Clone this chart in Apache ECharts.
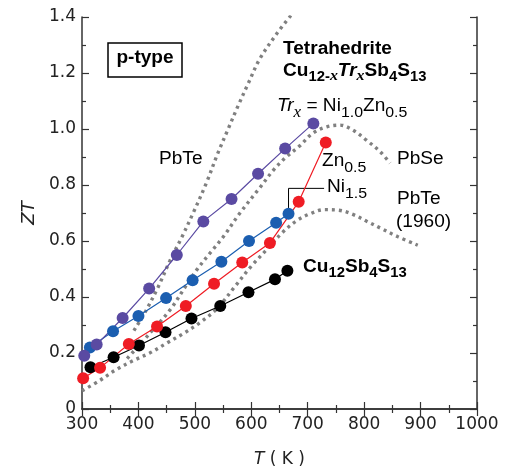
<!DOCTYPE html>
<html>
<head>
<meta charset="utf-8">
<script src="https://cdn.jsdelivr.net/npm/echarts@6/dist/echarts.min.js"></script>
<style>
  html, body { margin: 0; background: #fff; }
  #main { width: 505px; height: 468px; }
</style>
</head>
<body>
<div id="main"></div>
<script>
// measured ZT vs T (K)
var niZn = [[304,0.19],[326,0.23],[372,0.325],[419,0.43],[468,0.55],[515,0.67],[565,0.75],[612,0.84],[660,0.93],[710,1.02]]
var ni15 = [[314,0.22],[355,0.278],[400,0.332],[449,0.396],[496,0.46],[547,0.526],[596,0.60],[644,0.665],[666,0.697]]
var zn05 = [[302,0.11],[332,0.147],[383,0.232],[433,0.295],[484,0.368],[534,0.447],[584,0.523],[633,0.593],[684,0.74],[732,0.952]]
var cu12 = [[315,0.149],[356,0.185],[401,0.227],[448,0.274],[494,0.323],[545,0.368],[595,0.417],[642,0.463],[664,0.494]]

// reference materials (dotted)
var pbTe = [[392,0.28],[413,0.35],[435,0.436],[456,0.53],[476,0.61],[497,0.70],[521,0.81],[540,0.91],[559,1.0],[576,1.08],[594,1.16],[615,1.25],[645,1.34],[672,1.41]]
var pbSe = [[380,0.18],[420,0.27],[456,0.354],[483,0.436],[503,0.496],[527,0.557],[550,0.614],[580,0.70],[615,0.79],[640,0.855],[662,0.90],[686,0.94],[709,0.985],[734,1.008],[757,1.014],[780,0.996],[804,0.96],[828,0.92],[846,0.878]]
var pbTe1960 = [[300,0.065],[330,0.10],[360,0.14],[390,0.172],[420,0.20],[450,0.235],[480,0.27],[510,0.31],[540,0.36],[570,0.435],[600,0.51],[630,0.575],[655,0.63],[680,0.672],[705,0.698],[730,0.712],[755,0.71],[780,0.695],[805,0.67],[830,0.645],[860,0.615],[895,0.585]]

// leader line from the Ni1.5 label to its last point
var niLeader = [[666,0.70],[666,0.788],[729,0.788]]

var chart = echarts.init(document.getElementById('main'))

var axisColor = '#333'
var font = 'DejaVu Sans'
var txtFont = 'Liberation Sans'

function dotted(data) {
  return {
    type: 'line', data: data, smooth: 0.35, showSymbol: false, symbol: 'none',
    lineStyle: { color: '#808080', width: 3.4, type: [3, 4] }, z: 1, silent: true
  }
}
function measured(data, color) {
  return {
    type: 'line', data: data, symbol: 'circle', symbolSize: 12,
    itemStyle: { color: color }, lineStyle: { color: color, width: 1.2 }, z: 3
  }
}

var baseAxis = {
  type: 'value',
  axisLine: { show: true, lineStyle: { color: axisColor, width: 1.5 } },
  axisTick: { show: true, inside: true, length: 7, lineStyle: { color: axisColor, width: 1.2 } },
  minorTick: { show: true, splitNumber: 2, length: 4, lineStyle: { color: axisColor, width: 1.2 } },
  splitLine: { show: false }
}

var bold = { fontFamily: txtFont, fontWeight: 'bold', fontSize: 18, color: '#000', lineHeight: 20, verticalAlign: 'top' }
var bsub = { fontFamily: txtFont, fontWeight: 'bold', fontSize: 14, color: '#000', lineHeight: 14, padding: [8, 0, 0, 0], verticalAlign: 'top' }
var isub = { fontFamily: 'Liberation Serif', fontStyle: 'italic', fontWeight: 'bold', fontSize: 15, color: '#000', lineHeight: 14, padding: [7, 0, 0, 0], verticalAlign: 'top' }

function txt(x, y, text, rich, align) {
  return {
    type: 'text', x: x, y: y, scaleX: 1.06, z: 10,
    style: { text: text, rich: rich, align: align || 'left', verticalAlign: 'top' }
  }
}

function plain(color, size) {
  return { fontFamily: txtFont, fontSize: size || 18, color: color, lineHeight: 20, verticalAlign: 'top' }
}
function sub(color) {
  return { fontFamily: txtFont, fontSize: 15, color: color, lineHeight: 15, padding: [8, 0, 0, 0], verticalAlign: 'top' }
}

chart.setOption({
  animation: false,
  grid: { left: 82, right: 28, top: 17, bottom: 59, containLabel: false, outerBoundsMode: 'none' },
  xAxis: [
    Object.assign({}, baseAxis, {
      min: 300, max: 1000, interval: 100, position: 'bottom',
      axisLabel: { fontFamily: font, fontSize: 17, color: '#222', margin: 7,
        formatter: function (v) { return String(v) } },
      name: '{i|T}{n| ( K )}', nameLocation: 'middle', nameGap: 42,
      nameTextStyle: { rich: {
        i: { fontFamily: font, fontStyle: 'italic', fontSize: 17, color: '#222' },
        n: { fontFamily: font, fontSize: 17, color: '#222' }
      } }
    }),
    Object.assign({}, baseAxis, {
      min: 300, max: 1000, interval: 100, position: 'top', axisLabel: { show: false }
    })
  ],
  yAxis: [
    Object.assign({}, baseAxis, {
      min: 0, max: 1.4, interval: 0.2, position: 'left',
      axisLabel: {
        fontFamily: font, fontSize: 17, color: '#222', margin: 6,
        formatter: function (v) { return v === 0 ? '0' : v.toFixed(1) }
      },
      name: 'ZT', nameLocation: 'middle', nameGap: 44, nameRotate: 90,
      nameTextStyle: { fontFamily: font, fontStyle: 'italic', fontSize: 18, color: '#222' }
    }),
    Object.assign({}, baseAxis, {
      min: 0, max: 1.4, interval: 0.2, position: 'right', axisLabel: { show: false }
    })
  ],
  series: [
    dotted(pbTe),
    dotted(pbSe),
    dotted(pbTe1960),
    { type: 'line', data: niLeader, symbol: 'none', lineStyle: { color: '#000', width: 1 }, z: 2, silent: true },
    measured(cu12, '#000000'),
    measured(zn05, '#ef1c24'),
    measured(ni15, '#1b5eb0'),
    measured(niZn, '#5a4aa2')
  ],
  graphic: [
    { type: 'rect', shape: { x: 108, y: 43, width: 74, height: 34 },
      style: { fill: '#fff', stroke: '#000', lineWidth: 1.5 }, z: 10 },
    txt(145, 49, '{b|p-type}', { b: bold }, 'center'),
    txt(283, 40, '{b|Tetrahedrite}', { b: bold }),
    txt(283, 62, '{b|Cu}{s|12-}{i|x}{bi|Tr}{i|x}{b|Sb}{s|4}{b|S}{s|13}', {
      b: bold, s: bsub, i: isub,
      bi: { fontFamily: txtFont, fontWeight: 'bold', fontStyle: 'italic', fontSize: 18, color: '#000', lineHeight: 20, verticalAlign: 'top' }
    }),
    txt(277, 97, '{t|Tr}{x|x}{e| = }{p|Ni}{ps|1.0}{p|Zn}{ps|0.5}', {
      t: { fontFamily: txtFont, fontStyle: 'italic', fontSize: 18, color: '#000', lineHeight: 20, verticalAlign: 'top' },
      x: { fontFamily: 'Liberation Serif', fontStyle: 'italic', fontSize: 16, color: '#000', lineHeight: 15, padding: [8, 0, 0, 0], verticalAlign: 'top' },
      e: plain('#000'),
      p: plain('#5a4aa2'), ps: sub('#5a4aa2')
    }),
    txt(159, 150, '{g|PbTe}', { g: plain('#6e6e6e') }),
    txt(397, 150, '{g|PbSe}', { g: plain('#777777') }),
    txt(397, 190, '{g|PbTe}', { g: plain('#7a818c') }),
    txt(396, 213, '{g|(1960)}', { g: plain('#7a818c') }),
    txt(322, 152, '{r|Zn}{rs|0.5}', { r: plain('#ef1c24'), rs: sub('#ef1c24') }),
    txt(327, 178, '{r|Ni}{rs|1.5}', { r: plain('#1b5eb0'), rs: sub('#1b5eb0') }),
    txt(303, 258, '{b|Cu}{s|12}{b|Sb}{s|4}{b|S}{s|13}', { b: bold, s: bsub })
  ]
})
</script>
</body>
</html>
